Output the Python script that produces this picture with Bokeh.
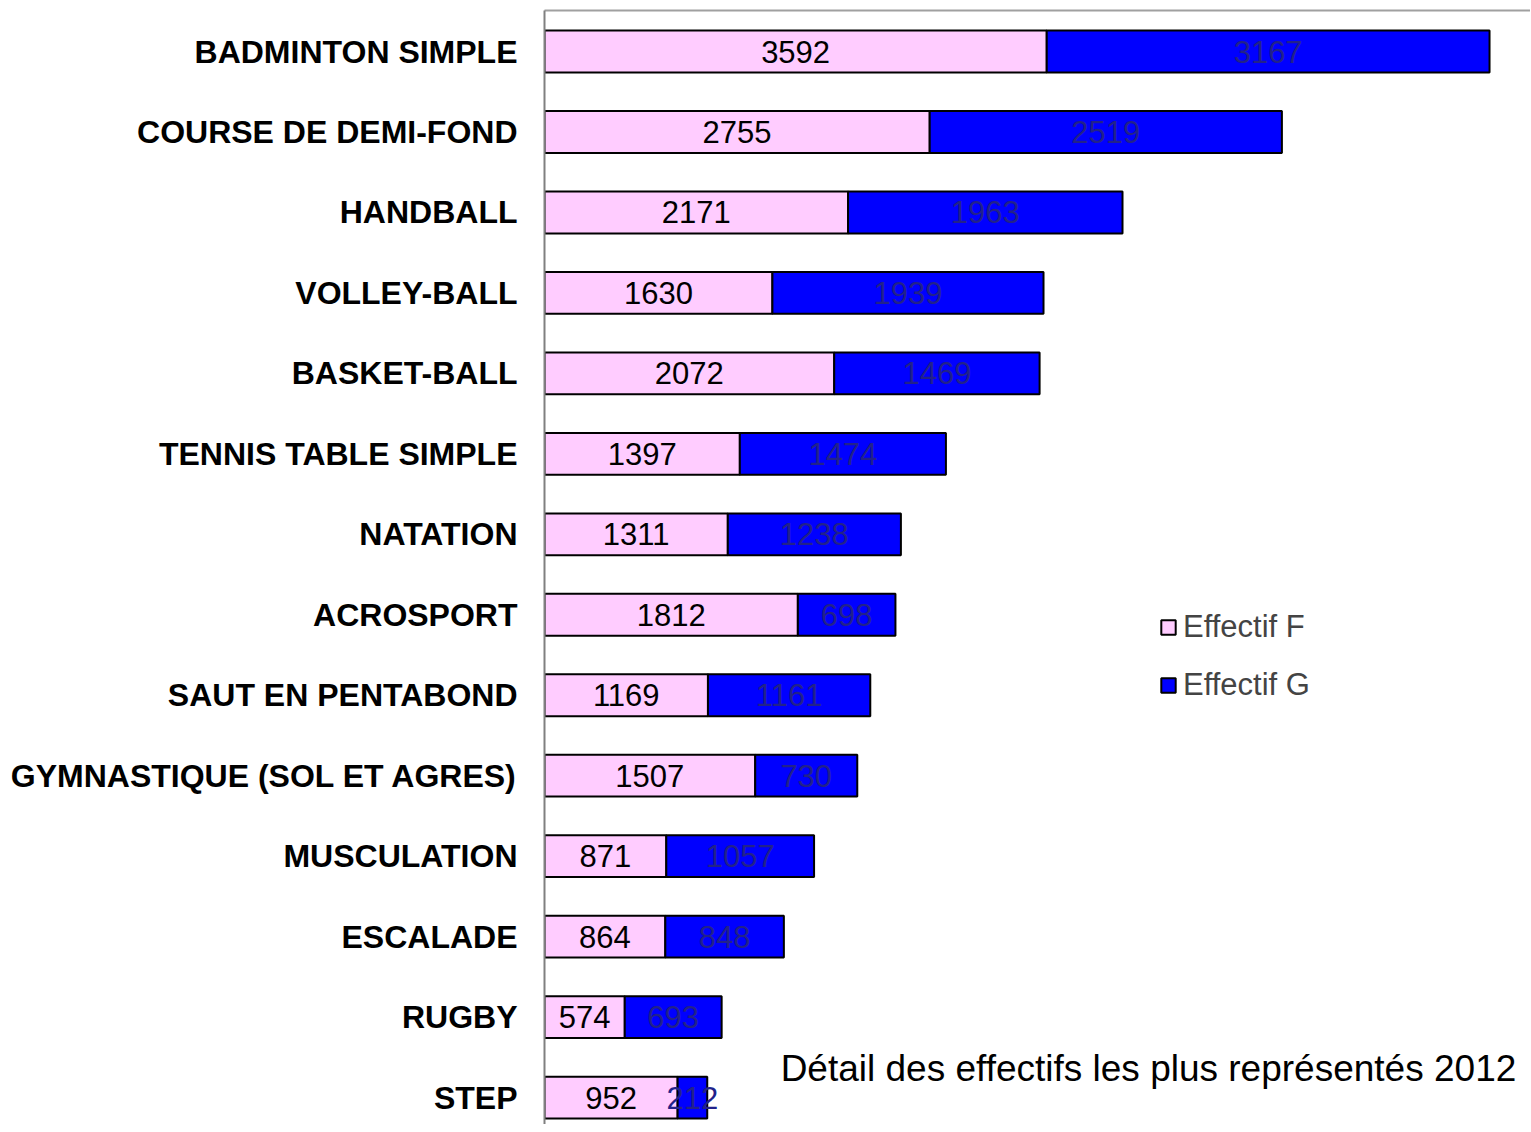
from bokeh.plotting import figure
from bokeh.models import ColumnDataSource, Range1d, FixedTicker, LinearAxis, Legend, LegendItem, Label
from bokeh.core.properties import value
from bokeh.embed import file_html
from bokeh.resources import INLINE

categories = [
    "BADMINTON SIMPLE",
    "COURSE DE DEMI-FOND",
    "HANDBALL",
    "VOLLEY-BALL",
    "BASKET-BALL",
    "TENNIS TABLE SIMPLE",
    "NATATION",
    "ACROSPORT",
    "SAUT EN PENTABOND",
    "GYMNASTIQUE (SOL ET AGRES)",
    "MUSCULATION",
    "ESCALADE",
    "RUGBY",
    "STEP",
]
effectif_f = [3592, 2755, 2171, 1630, 2072, 1397, 1311, 1812, 1169, 1507, 871, 864, 574, 952]
effectif_g = [3167, 2519, 1963, 1939, 1469, 1474, 1238, 698, 1161, 730, 1057, 848, 693, 212]
series_names = ["Effectif F", "Effectif G"]
caption = "Détail des effectifs les plus représentés 2012"

n = len(categories)
ys = list(range(n))
src = ColumnDataSource(data=dict(
    y=ys,
    f=effectif_f,
    g=effectif_g,
    t=[a + b for a, b in zip(effectif_f, effectif_g)],
    fx=[a / 2 for a in effectif_f],
    gx=[a + b / 2 for a, b in zip(effectif_f, effectif_g)],
    fl=[str(v) for v in effectif_f],
    gl=[str(v) for v in effectif_g],
))

FONT = "Liberation Sans"

p = figure(width=1530, height=1124, output_backend="svg", toolbar_location=None,
           x_range=Range1d(0, 7052), y_range=Range1d(13.335, -0.51),
           x_axis_location=None,
           min_border_left=544, min_border_top=10, min_border_bottom=0, min_border_right=0)
p.xgrid.visible = False
p.ygrid.visible = False
p.outline_line_color = None
p.background_fill_color = "white"
p.border_fill_color = "white"

ya = p.yaxis[0]
ya.ticker = FixedTicker(ticks=ys)
ya.major_label_overrides = {i: c for i, c in enumerate(categories)}
ya.major_tick_line_color = None
ya.minor_tick_line_color = None
ya.major_tick_out = 0
ya.major_tick_in = 0
ya.major_label_standoff = 27
ya.axis_line_color = "#808080"
ya.axis_line_width = 2
ya.major_label_text_font = FONT
ya.major_label_text_font_style = "bold"
ya.major_label_text_font_size = "32px"
ya.major_label_text_color = "black"

top = LinearAxis(ticker=FixedTicker(ticks=[]), axis_line_color="#a0a0a0", axis_line_width=2,
                 major_tick_line_color=None, minor_tick_line_color=None,
                 major_tick_out=0, major_tick_in=0, major_label_standoff=0)
p.add_layout(top, "above")

r1 = p.hbar(y="y", left=0, right="f", height=0.52, fill_color="#ffccff",
            line_color="black", line_width=2, source=src)
r2 = p.hbar(y="y", left="f", right="t", height=0.52, fill_color="#0000ff",
            line_color="black", line_width=2, source=src)

p.text(x="fx", y="y", text="fl", source=src, text_align="center", text_baseline="middle",
       text_font=value(FONT), text_font_size=value("31px"), text_color="black")
p.text(x="gx", y="y", text="gl", source=src, text_align="center", text_baseline="middle",
       text_font=value(FONT), text_font_size=value("31px"), text_color="#22228a")

legend = Legend(items=[LegendItem(label=series_names[0], renderers=[r1]),
                       LegendItem(label=series_names[1], renderers=[r2])],
                location=(615, 421), glyph_width=18, glyph_height=18,
                label_text_font=FONT, label_text_font_size="31px", label_standoff=6,
                spacing=22, padding=0, margin=0, border_line_color=None,
                background_fill_alpha=0)
p.add_layout(legend)

cap = Label(x=1689, y=12.64, text=caption, text_baseline="middle", text_align="left",
            text_font=FONT, text_font_size="37px", text_color="black")
p.add_layout(cap)

open("out.html", "w").write(file_html(p, INLINE))
